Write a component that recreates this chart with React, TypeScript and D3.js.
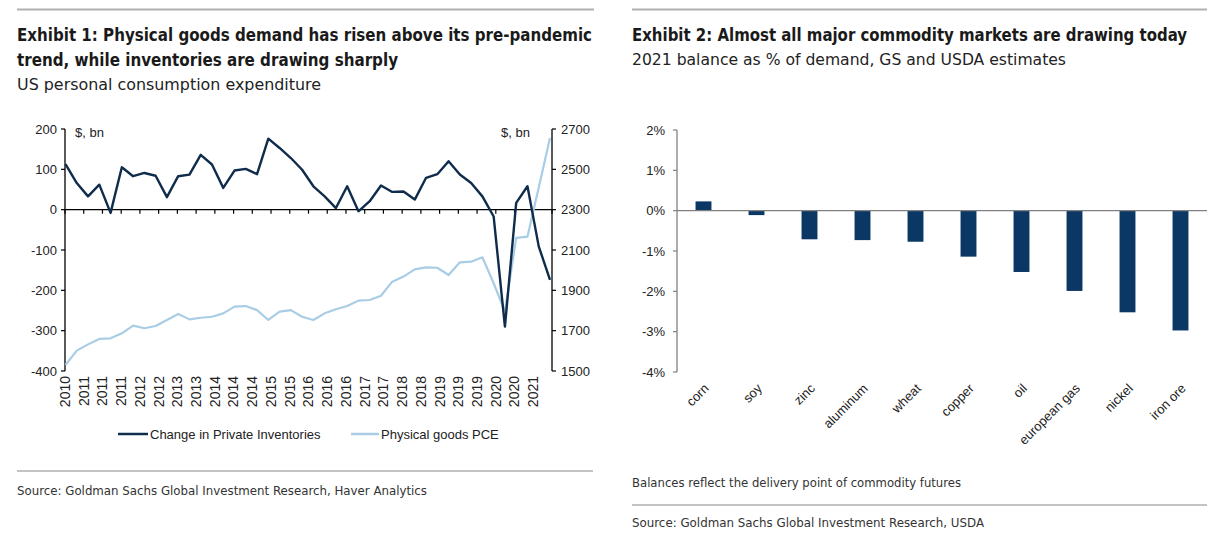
import React from "react";
import * as d3 from "d3";

// ---------- Exhibit 1 data (quarterly) ----------
const inventories = [
  113, 66, 33, 62, -8, 105, 83, 91, 84, 31, 83, 87, 136, 112, 54, 97, 101, 88, 176, 153,
  128, 99, 58, 33, 4, 58, -4, 21, 60, 44, 45, 25, 79, 88, 120, 87, 66, 33, -17, -290,
  17, 58, -91, -174,
];
const goodsPCE = [
  1530, 1601, 1632, 1659, 1662, 1687, 1725, 1712, 1723, 1753, 1783, 1756, 1764, 1769, 1786,
  1819, 1822, 1802, 1753, 1794, 1802, 1769, 1753, 1786, 1806, 1822, 1849, 1852, 1873, 1943,
  1968, 2004, 2014, 2012, 1976, 2039, 2042, 2064, 1935, 1795, 2160, 2166, 2410, 2655,
];
const yearLabels = [
  "2010", "2011", "2011", "2011", "2012", "2012", "2013", "2013", "2014", "2014", "2014",
  "2015", "2015", "2016", "2016", "2016", "2017", "2017", "2018", "2018", "2019", "2019",
  "2019", "2020", "2020", "2021",
];
const leftTicks = [200, 100, 0, -100, -200, -300, -400];
const rightTicks = [2700, 2500, 2300, 2100, 1900, 1700, 1500];

// ---------- Exhibit 2 data ----------
const commodities = [
  "corn", "soy", "zinc", "aluminum", "wheat", "copper", "oil", "european gas", "nickel", "iron ore",
];
const balances = [0.23, -0.11, -0.71, -0.73, -0.77, -1.14, -1.52, -1.99, -2.52, -2.97];
const pctTicks = [2, 1, 0, -1, -2, -3, -4];

const DARK = "#0f2c4c";
const LIGHT = "#a9cde4";
const BAR = "#0a3764";
const AX = "'Liberation Sans', Arimo, Arial, Helvetica, sans-serif";
const NARROW = "'Liberation Sans Narrow', 'DejaVu Sans Condensed', 'Liberation Sans', Arial, sans-serif";

export default function App() {
  // Exhibit 1 scales
  const x = d3.scaleLinear().domain([0, inventories.length - 1]).range([65.5, 550]);
  const yL = d3.scaleLinear().domain([-400, 200]).range([371, 129]);
  const yR = d3.scaleLinear().domain([1500, 2700]).range([371, 129]);
  const xTick = d3.scaleLinear().domain([0, 26]).range([65, 552]);
  const lineInv = d3.line<number>().x((_, i) => x(i)).y((d) => yL(d));
  const linePCE = d3.line<number>().x((_, i) => x(i)).y((d) => yR(d));

  // Exhibit 2 scales
  const xB = d3.scaleBand<string>().domain(commodities).range([677, 1207]).paddingInner(0.7).paddingOuter(0.35);
  const yB = d3.scaleLinear().domain([-4, 2]).range([372, 130]);

  return (
    <svg width={1222} height={540} style={{ position: "absolute", left: 0, top: 0, background: "#fff" }}>
      {/* ===== Exhibit 1 header ===== */}
      <line x1={17} x2={594} y1={9.5} y2={9.5} stroke="#b0b0b0" strokeWidth={2} />
      <text x={17} y={41} style={{ fontFamily: NARROW }} fontWeight="bold" fontSize={18} fill="#1a1a1a" textLength={575} lengthAdjust="spacingAndGlyphs">
        Exhibit 1: Physical goods demand has risen above its pre-pandemic
      </text>
      <text x={17} y={66} style={{ fontFamily: NARROW }} fontWeight="bold" fontSize={18} fill="#1a1a1a" textLength={381} lengthAdjust="spacingAndGlyphs">
        trend, while inventories are drawing sharply
      </text>
      <text x={17} y={90} style={{ fontFamily: NARROW }} fontSize={16.5} fill="#222" textLength={304} lengthAdjust="spacingAndGlyphs">
        US personal consumption expenditure
      </text>

      {/* Exhibit 1 axes */}
      <g style={{ fontFamily: AX }} fontSize={13} fill="#222">
        <line x1={65} x2={65} y1={129} y2={371} stroke="#000" strokeWidth={1.3} />
        {leftTicks.map((t) => (
          <g key={"l" + t}>
            <line x1={61} x2={65} y1={yL(t)} y2={yL(t)} stroke="#000" strokeWidth={1.2} />
            <text x={57} y={yL(t)} dy="0.35em" textAnchor="end">{t}</text>
          </g>
        ))}
        <line x1={552} x2={552} y1={129} y2={371} stroke="#000" strokeWidth={1.3} />
        {rightTicks.map((t) => (
          <g key={"r" + t}>
            <line x1={552} x2={556} y1={yR(t)} y2={yR(t)} stroke="#000" strokeWidth={1.2} />
            <text x={561} y={yR(t)} dy="0.35em" textAnchor="start">{t}</text>
          </g>
        ))}
        <text x={75} y={137} fontSize={13}>$, bn</text>
        <text x={530} y={137} fontSize={13} textAnchor="end">$, bn</text>
        {/* zero line with ticks */}
        <line x1={65} x2={552} y1={yL(0)} y2={yL(0)} stroke="#000" strokeWidth={1.2} />
        {d3.range(27).map((i) => (
          <line key={"t" + i} x1={xTick(i)} x2={xTick(i)} y1={yL(0)} y2={yL(0) + 4} stroke="#000" strokeWidth={1.2} />
        ))}
        {yearLabels.map((lab, i) => (
          <text key={"y" + i} transform={`translate(${xTick(i)},376) rotate(-90)`} dy="0.35em" textAnchor="end" fontSize={14}>
            {lab}
          </text>
        ))}
      </g>

      {/* Exhibit 1 lines */}
      <path d={linePCE(goodsPCE) || ""} fill="none" stroke={LIGHT} strokeWidth={2.2} strokeLinejoin="round" />
      <path d={lineInv(inventories) || ""} fill="none" stroke={DARK} strokeWidth={2.4} strokeLinejoin="round" />

      {/* legend */}
      <g style={{ fontFamily: AX }} fontSize={13} fill="#222">
        <line x1={118} x2={148} y1={434} y2={434} stroke={DARK} strokeWidth={2.5} />
        <text x={150} y={434} dy="0.35em">Change in Private Inventories</text>
        <line x1={351} x2={379} y1={434} y2={434} stroke={LIGHT} strokeWidth={2.5} />
        <text x={381} y={434} dy="0.35em">Physical goods PCE</text>
      </g>

      {/* footer 1 */}
      <line x1={17} x2={593} y1={471} y2={471} stroke="#b0b0b0" strokeWidth={1.5} />
      <text x={17} y={495} style={{ fontFamily: NARROW }} fontSize={13} fill="#333" textLength={410} lengthAdjust="spacingAndGlyphs">
        Source: Goldman Sachs Global Investment Research, Haver Analytics
      </text>

      {/* ===== Exhibit 2 header ===== */}
      <line x1={632} x2={1207} y1={9.5} y2={9.5} stroke="#b0b0b0" strokeWidth={2} />
      <text x={632} y={41} style={{ fontFamily: NARROW }} fontWeight="bold" fontSize={17} fill="#1a1a1a" textLength={555} lengthAdjust="spacingAndGlyphs">
        Exhibit 2: Almost all major commodity markets are drawing today
      </text>
      <text x={632} y={65} style={{ fontFamily: NARROW }} fontSize={16.5} fill="#222" textLength={434} lengthAdjust="spacingAndGlyphs">
        2021 balance as % of demand, GS and USDA estimates
      </text>

      {/* Exhibit 2 axes */}
      <g style={{ fontFamily: AX }} fontSize={13} fill="#222">
        <line x1={677} x2={677} y1={130} y2={372} stroke="#808080" strokeWidth={1.3} />
        {pctTicks.map((t) => (
          <g key={"p" + t}>
            <line x1={673} x2={677} y1={yB(t)} y2={yB(t)} stroke="#808080" strokeWidth={1.2} />
            <text x={665} y={yB(t)} dy="0.35em" textAnchor="end">{t + "%"}</text>
          </g>
        ))}
      </g>
      {commodities.map((c, i) => {
        const v = balances[i];
        return (
          <rect key={c} x={xB(c)} width={xB.bandwidth()} y={yB(Math.max(0, v))} height={Math.abs(yB(v) - yB(0))} fill={BAR} />
        );
      })}
      <line x1={677} x2={1207} y1={yB(0)} y2={yB(0)} stroke="#808080" strokeWidth={1.3} />
      <g style={{ fontFamily: AX }} fontSize={13} fill="#222">
        {commodities.map((c) => (
          <text key={"c" + c} transform={`translate(${(xB(c) || 0) + xB.bandwidth() / 2 + 3},386) rotate(-45)`} dy="0.35em" textAnchor="end">
            {c}
          </text>
        ))}
      </g>

      {/* footer 2 */}
      <text x={632} y={487} style={{ fontFamily: NARROW }} fontSize={13} fill="#333" textLength={329} lengthAdjust="spacingAndGlyphs">
        Balances reflect the delivery point of commodity futures
      </text>
      <line x1={632} x2={1207} y1={505} y2={505} stroke="#b0b0b0" strokeWidth={1.5} />
      <text x={632} y={527} style={{ fontFamily: NARROW }} fontSize={13} fill="#333" textLength={352} lengthAdjust="spacingAndGlyphs">
        Source: Goldman Sachs Global Investment Research, USDA
      </text>
    </svg>
  );
}
